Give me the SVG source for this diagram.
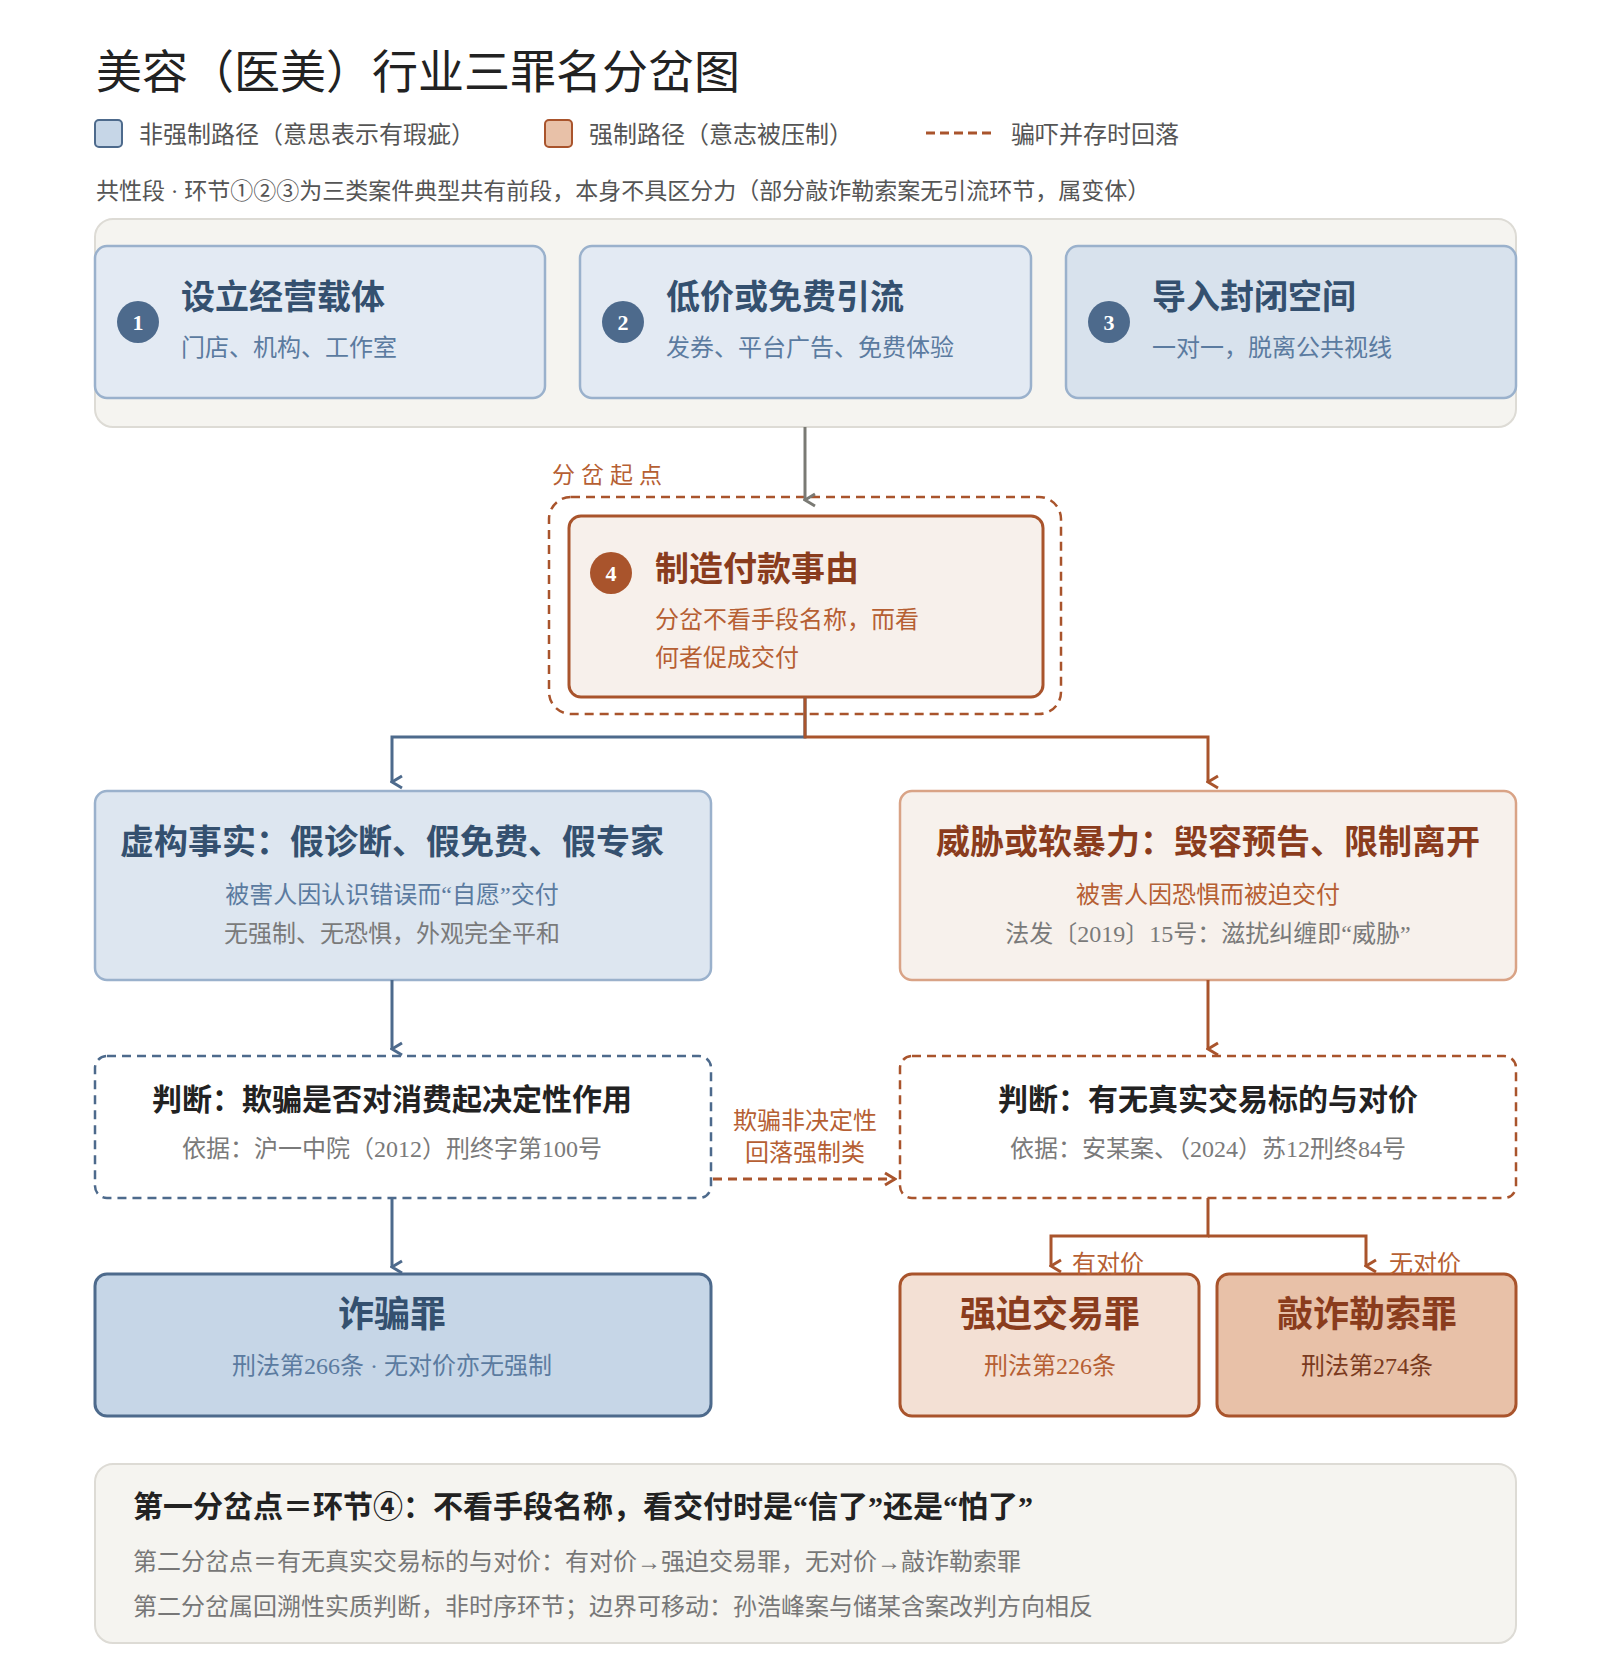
<svg xmlns="http://www.w3.org/2000/svg" width="1600" height="1662" viewBox="0 0 1600 1662">
<defs>
<style>
text{font-family:"Liberation Serif","Noto Sans CJK SC",serif}
.t{font-size:34px;font-weight:bold}
.s{font-size:24px}
.bt{fill:#34506f}.bs{fill:#5b7ba0}
.ot{fill:#8a3c1d}.os{fill:#b65f33}
.g{fill:#7a7a7a}
.num{font-size:22px;font-weight:bold;fill:#fff;text-anchor:middle}
.m{text-anchor:middle}
</style>
<marker id="ab" viewBox="0 0 16 16" refX="8" refY="14" markerWidth="16" markerHeight="16" markerUnits="userSpaceOnUse" orient="auto-start-reverse"><path d="M2 4 L8 14 L14 4" fill="none" stroke="#4d6a8c" stroke-width="3"/></marker>
<marker id="ao" viewBox="0 0 16 16" refX="8" refY="14" markerWidth="16" markerHeight="16" markerUnits="userSpaceOnUse" orient="auto-start-reverse"><path d="M2 4 L8 14 L14 4" fill="none" stroke="#a9542c" stroke-width="3"/></marker>
<marker id="ag" viewBox="0 0 16 16" refX="8" refY="14" markerWidth="16" markerHeight="16" markerUnits="userSpaceOnUse" orient="auto"><path d="M2 4 L8 14 L14 4" fill="none" stroke="#7a7a74" stroke-width="3"/></marker>
<marker id="ar" viewBox="0 0 16 16" refX="14" refY="8" markerWidth="16" markerHeight="16" markerUnits="userSpaceOnUse" orient="auto"><path d="M4 2 L14 8 L4 14" fill="none" stroke="#a9542c" stroke-width="3"/></marker>
</defs>
<rect width="1600" height="1662" fill="#fff"/>
<text x="96" y="88" font-size="46" fill="#222">美容（医美）行业三罪名分岔图</text>
<g id="legend">
<rect x="95" y="120" width="27" height="27" rx="4" fill="#c6d6e7" stroke="#4d6a8c" stroke-width="2"/>
<text x="139" y="143" font-size="24" fill="#555">非强制路径（意思表示有瑕疵）</text>
<rect x="545" y="120" width="27" height="27" rx="4" fill="#e8c1a8" stroke="#a9542c" stroke-width="2"/>
<text x="589" y="143" font-size="24" fill="#555">强制路径（意志被压制）</text>
<line x1="926" y1="133" x2="992" y2="133" stroke="#a9542c" stroke-width="3" stroke-dasharray="9,5"/>
<text x="1011" y="143" font-size="24" fill="#555">骗吓并存时回落</text>
</g>
<text x="96" y="199" font-size="23" fill="#555">共性段 · 环节①②③为三类案件典型共有前段，本身不具区分力（部分敲诈勒索案无引流环节，属变体）</text>
<rect x="95" y="219" width="1421" height="208" rx="18" fill="#f5f4f0" stroke="#dddbd5" stroke-width="2"/>
<g id="n1">
<rect x="95" y="246" width="450" height="152" rx="12" fill="#e3eaf3" stroke="#9ab1cc" stroke-width="2.5"/>
<circle cx="138" cy="322" r="21" fill="#4d6a8c"/><text x="138" y="330" class="num">1</text>
<text x="181" y="309" class="t bt">设立经营载体</text>
<text x="181" y="356" class="s bs">门店、机构、工作室</text>
</g>
<g id="n2">
<rect x="580" y="246" width="451" height="152" rx="12" fill="#e3eaf3" stroke="#9ab1cc" stroke-width="2.5"/>
<circle cx="623" cy="322" r="21" fill="#4d6a8c"/><text x="623" y="330" class="num">2</text>
<text x="666" y="309" class="t bt">低价或免费引流</text>
<text x="666" y="356" class="s bs">发券、平台广告、免费体验</text>
</g>
<g id="n3">
<rect x="1066" y="246" width="450" height="152" rx="12" fill="#d8e2ed" stroke="#9ab1cc" stroke-width="2.5"/>
<circle cx="1109" cy="322" r="21" fill="#4d6a8c"/><text x="1109" y="330" class="num">3</text>
<text x="1152" y="309" class="t bt">导入封闭空间</text>
<text x="1152" y="356" class="s bs">一对一，脱离公共视线</text>
</g>
<text x="552" y="483" font-size="23" fill="#b65f33" letter-spacing="6">分岔起点</text>
<g id="n4">
<rect x="549" y="497" width="512" height="217" rx="22" fill="none" stroke="#a9542c" stroke-width="2.5" stroke-dasharray="9,6"/>
<rect x="569" y="516" width="474" height="181" rx="12" fill="#f7f0eb" stroke="#a9542c" stroke-width="3"/>
<circle cx="611" cy="573" r="21" fill="#a9542c"/><text x="611" y="581" class="num">4</text>
<text x="655" y="581" class="t ot">制造付款事由</text>
<text x="655" y="628" class="s os">分岔不看手段名称，而看</text>
<text x="655" y="666" class="s os">何者促成交付</text>
</g>
<g id="n5">
<rect x="95" y="791" width="616" height="189" rx="12" fill="#dde6f0" stroke="#9ab1cc" stroke-width="2.5"/>
<text x="392" y="854" class="t bt m">虚构事实：假诊断、假免费、假专家</text>
<text x="392" y="903" class="s bs m">被害人因认识错误而“自愿”交付</text>
<text x="392" y="942" class="s g m">无强制、无恐惧，外观完全平和</text>
</g>
<g id="n6">
<rect x="900" y="791" width="616" height="189" rx="12" fill="#f7f1ec" stroke="#d9a386" stroke-width="2.5"/>
<text x="1208" y="854" class="t ot m">威胁或软暴力：毁容预告、限制离开</text>
<text x="1208" y="903" class="s os m">被害人因恐惧而被迫交付</text>
<text x="1208" y="942" class="s g m">法发〔2019〕15号：滋扰纠缠即“威胁”</text>
</g>
<g id="n7">
<rect x="95" y="1056" width="616" height="142" rx="12" fill="#fff" stroke="#4d6a8c" stroke-width="2.5" stroke-dasharray="9,6"/>
<text x="392" y="1110" font-size="30" font-weight="bold" fill="#222" class="m">判断：欺骗是否对消费起决定性作用</text>
<text x="392" y="1157" class="s g m">依据：沪一中院（2012）刑终字第100号</text>
</g>
<g id="n8">
<rect x="900" y="1056" width="616" height="142" rx="12" fill="#fff" stroke="#a9542c" stroke-width="2.5" stroke-dasharray="9,6"/>
<text x="1208" y="1110" font-size="30" font-weight="bold" fill="#222" class="m">判断：有无真实交易标的与对价</text>
<text x="1208" y="1157" class="s g m">依据：安某案、（2024）苏12刑终84号</text>
</g>
<g id="n9">
<rect x="95" y="1274" width="616" height="142" rx="12" fill="#c6d6e7" stroke="#4d6a8c" stroke-width="3"/>
<text x="392" y="1327" font-size="36" font-weight="bold" class="bt m">诈骗罪</text>
<text x="392" y="1374" class="s bs m">刑法第266条 · 无对价亦无强制</text>
</g>
<g id="n10">
<rect x="900" y="1274" width="299" height="142" rx="12" fill="#f3e0d4" stroke="#a9542c" stroke-width="3"/>
<text x="1050" y="1327" font-size="36" font-weight="bold" class="ot m">强迫交易罪</text>
<text x="1050" y="1374" class="s os m">刑法第226条</text>
</g>
<g id="n11">
<rect x="1217" y="1274" width="299" height="142" rx="12" fill="#e8c1a8" stroke="#a9542c" stroke-width="3"/>
<text x="1367" y="1327" font-size="36" font-weight="bold" class="ot m">敲诈勒索罪</text>
<text x="1367" y="1374" class="s m" fill="#7a3a1e">刑法第274条</text>
</g>
<g id="connectors" fill="none" stroke-width="3">
<line x1="805" y1="427" x2="805" y2="500" stroke="#7a7a74" marker-end="url(#ag)"/>
<path d="M805 697 V737 H392 V782" stroke="#4d6a8c" marker-end="url(#ab)"/>
<path d="M805 697 V737 H1208 V782" stroke="#a9542c" marker-end="url(#ao)"/>
<line x1="392" y1="980" x2="392" y2="1049" stroke="#4d6a8c" marker-end="url(#ab)"/>
<line x1="1208" y1="980" x2="1208" y2="1049" stroke="#a9542c" marker-end="url(#ao)"/>
<line x1="392" y1="1198" x2="392" y2="1267" stroke="#4d6a8c" marker-end="url(#ab)"/>
<path d="M1208 1198 V1236 H1051 V1266" stroke="#a9542c" marker-end="url(#ao)"/>
<path d="M1208 1236 H1366 V1266" stroke="#a9542c" marker-end="url(#ao)"/>
<line x1="713" y1="1179" x2="895" y2="1179" stroke="#a9542c" stroke-dasharray="9,6" marker-end="url(#ar)"/>
</g>
<text x="805" y="1129" class="s os m">欺骗非决定性</text>
<text x="805" y="1161" class="s os m">回落强制类</text>
<text x="1072" y="1272" class="s os">有对价</text>
<text x="1389" y="1272" class="s os">无对价</text>
<g id="summary">
<rect x="95" y="1464" width="1421" height="179" rx="18" fill="#f5f4f0" stroke="#dddbd5" stroke-width="2"/>
<text x="133" y="1517" font-size="30" font-weight="bold" fill="#222">第一分岔点＝环节④：不看手段名称，看交付时是“信了”还是“怕了”</text>
<text x="133" y="1570" font-size="24" fill="#777">第二分岔点＝有无真实交易标的与对价：有对价→强迫交易罪，无对价→敲诈勒索罪</text>
<text x="133" y="1615" font-size="24" fill="#777">第二分岔属回溯性实质判断，非时序环节；边界可移动：孙浩峰案与储某含案改判方向相反</text>
</g>
</svg>
